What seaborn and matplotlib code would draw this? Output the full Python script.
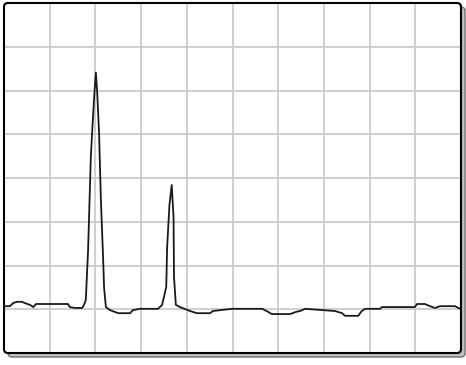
import numpy as np
import seaborn as sns
import matplotlib.pyplot as plt
from matplotlib.patches import FancyBboxPatch
from matplotlib.transforms import Affine2D

# trace (x: 0-100, y: 0-80)
trace_x = [0, 1.3, 2.0, 2.8, 3.9, 4.6, 5.7, 6.4, 7.0, 14.0, 14.4, 15.5, 17.1, 17.5,
           17.9, 18.2, 18.4, 19.0, 19.4, 19.8, 20.1, 20.4, 20.8, 21.2, 21.7, 21.9,
           22.3, 23.2, 25.0, 27.6, 28.2, 29.8, 33.7, 34.6, 35.5, 35.7, 36.2, 36.7,
           37.1, 37.2, 37.6, 38.5, 40.7, 42.2, 45.1, 45.7, 49.9, 56.5, 57.8, 58.6,
           62.6, 63.9, 64.8, 65.9, 72.4, 74.0, 74.6, 77.5, 78.3, 79.0, 82.3, 82.7,
           89.9, 90.4, 92.1, 93.2, 94.3, 95.4, 98.7, 99.8]
trace_y = [10.7, 10.7, 11.4, 11.7, 11.7, 11.4, 11.0, 10.5, 11.2, 11.2, 10.5, 10.3, 10.3, 11.0,
           12.1, 19.0, 23.5, 44.8, 52.6, 59.7, 64.1, 59.4, 50.3, 35.0, 21.3, 14.9,
           10.5, 9.8, 9.1, 9.1, 9.8, 10.1, 10.1, 11.0, 15.1, 24.2, 33.8, 38.4,
           31.1, 17.4, 11.0, 10.5, 9.6, 9.1, 9.1, 9.6, 10.1, 10.1, 9.4, 8.9,
           8.9, 9.4, 9.6, 10.1, 9.6, 9.1, 8.5, 8.5, 9.6, 10.1, 10.1, 10.5,
           10.5, 11.2, 11.2, 10.7, 10.3, 10.7, 10.7, 10.1]

W, H = 466, 365
sns.set_style("whitegrid", {"grid.color": "#cccccc"})
fig = plt.figure(figsize=(W / 100, H / 100), dpi=100)
fig.patch.set_facecolor("white")

px = Affine2D().scale(1 / W, 1 / H) + fig.transFigure

# drop shadow and frame
shadow = FancyBboxPatch((8, 8), 457, 350, boxstyle="round,pad=0,rounding_size=4",
                        transform=px, facecolor="#c0c0c0", edgecolor="#707070",
                        linewidth=1.0, zorder=0)
fig.patches.append(shadow)
panel = FancyBboxPatch((4, 12), 457, 350, boxstyle="round,pad=0,rounding_size=4",
                       transform=px, facecolor="white", edgecolor="none", zorder=1)
fig.patches.append(panel)

ax = fig.add_axes([4 / W, 12 / H, 457 / W, 350 / H])
ax.patch.set_visible(False)
ax.set_zorder(2)

sns.lineplot(x=trace_x, y=trace_y, ax=ax, color="#1a1a1a", linewidth=1.3,
             estimator=None, sort=False)

ax.set_xlim(0, 100)
ax.set_ylim(0, 80)
ax.set_xticks(np.arange(0, 101, 10))
ax.set_yticks(np.arange(0, 81, 10))
ax.tick_params(length=0, labelbottom=False, labelleft=False)
ax.grid(True, color="#cccccc", linewidth=1.3)
for s in ax.spines.values():
    s.set_visible(False)

border = FancyBboxPatch((4, 12), 457, 350, boxstyle="round,pad=0,rounding_size=4",
                        transform=px, facecolor="none", edgecolor="black",
                        linewidth=1.5, zorder=5)
fig.patches.append(border)

fig.savefig("out.png", dpi=100)
